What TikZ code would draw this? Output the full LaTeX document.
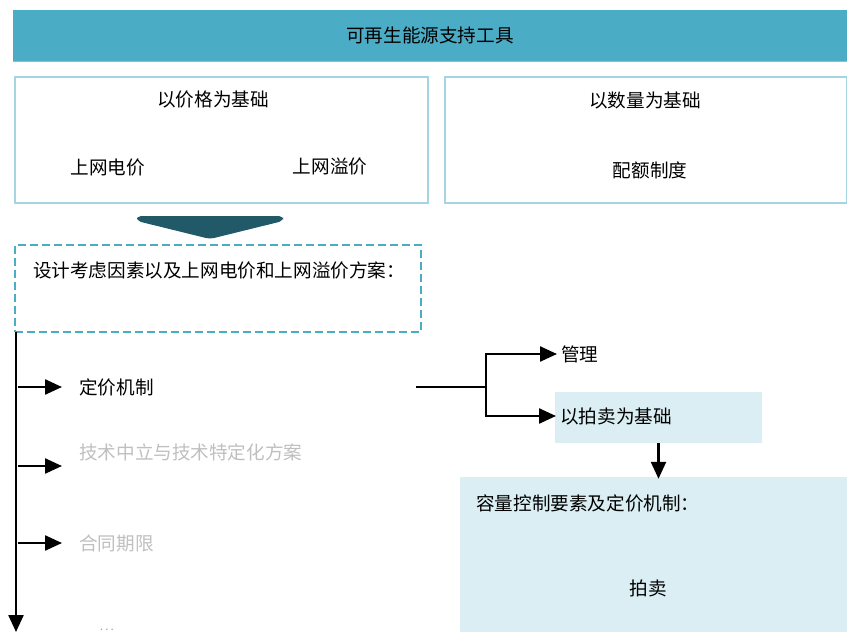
\documentclass[tikz,border=0pt]{standalone}
\usepackage{fontspec}
\setmainfont{Noto Sans CJK SC}
\usetikzlibrary{arrows.meta}
\definecolor{titlebg}{HTML}{4BACC6}
\definecolor{titleedge}{HTML}{7FC5D8}
\definecolor{boxline}{HTML}{A5D5E2}
\definecolor{darkteal}{HTML}{215968}
\definecolor{lightfill}{HTML}{DAEEF3}
\definecolor{graytext}{HTML}{BFBFBF}
\tikzset{
  every node/.style={font=\fontsize{18.6}{22}\selectfont, inner sep=0pt},
  titlebox/.style={fill=titlebg, minimum width=834pt, minimum height=51pt},
  outlinebox/.style={draw=boxline, line width=1.2pt, minimum height=126pt},
  dashbox/.style={draw=titlebg, line width=2.2pt, dash pattern=on 8pt off 4pt, minimum width=406pt, minimum height=87pt},
  fillbox/.style={fill=lightfill},
  dim/.style={text=graytext},
  conn/.style={line width=2.4pt, -{Triangle[length=17pt,width=15pt]}},
  plainline/.style={line width=2.4pt}
}
\begin{document}
\begin{tikzpicture}[x=1pt,y=-1pt]
\useasboundingbox (0,0) rectangle (847,632);
% title
\node[titlebox] (title) at (430,35.5) {可再生能源支持工具};
\draw[titleedge, line width=1.2pt] (title.south west) -- (title.south east);
% price-based and quantity-based boxes
\node[outlinebox, minimum width=413pt] (pricebox) at (221.5,140) {};
\node[outlinebox, minimum width=402pt] (qtybox) at (646,140) {};
\node (pricehead) at (213,99) {以价格为基础};
\node (fit) at (108,167) {上网电价};
\node (fip) at (330,166) {上网溢价};
\node (qtyhead) at (645,100) {以数量为基础};
\node (quota) at (650,170) {配额制度};
% big down arrow
\fill[darkteal, rounded corners=4pt] (137,216) -- (283,216) -- (283,221) -- (210,239) -- (137,221) -- cycle;
% dashed box
\node[dashbox] (design) at (218,288.5) {};
\node[anchor=west] (designtxt) at (33,270) {设计考虑因素以及上网电价和上网溢价方案：};
% vertical timeline
\coordinate (vtop) at (16,332);
\coordinate (vbot) at (16,632);
\draw[conn] (vtop) -- (vbot);
% items
\node[anchor=west] (pricing) at (79,387) {定价机制};
\node[anchor=west, dim] (tech) at (79,452) {技术中立与技术特定化方案};
\node[anchor=west, dim] (term) at (79,543) {合同期限};
\node[text=gray!70, font=\fontsize{12}{12}\selectfont, anchor=base] (dots) at (107,630) {.\,.\,.};
\coordinate (a1) at (18,387);
\coordinate (a2) at (18,466);
\coordinate (a3) at (18,543);
\draw[conn] (a1) -- (62,387);
\draw[conn] (a2) -- (62,466);
\draw[conn] (a3) -- (62,543);
% branch
\node[fillbox, minimum width=207pt, minimum height=51pt] (auctbox) at (658.5,417.5) {};
\node[anchor=west] (auct) at (560,416) {以拍卖为基础};
\node[anchor=west] (mgmt) at (561,354) {管理};
\coordinate (bstart) at (416,387);
\coordinate (bmid) at (486,387);
\draw[plainline] (bstart) -- (bmid);
\draw[conn] (bmid) |- ([xshift=-4pt]mgmt.west);
\draw[conn] (bmid) |- ([xshift=-4pt]auct.west);
% bottom box
\node[fillbox, minimum width=387pt, minimum height=155pt] (capbox) at (653.5,554.5) {};
\draw[conn] (auctbox.south) -- ([yshift=-2pt]auctbox.south |- capbox.north);
\node[anchor=west] (captxt) at (476,503) {容量控制要素及定价机制：};
\node (auction) at (648,588) {拍卖};
\end{tikzpicture}
\end{document}
